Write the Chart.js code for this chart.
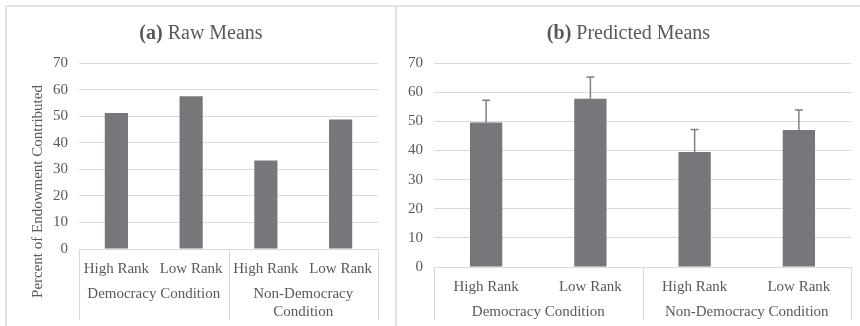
<!DOCTYPE html>
<html>
<head>
<meta charset="utf-8">
<script src="https://cdn.jsdelivr.net/npm/chart.js@4.4.1/dist/chart.umd.min.js"></script>
<style>
  html, body { margin: 0; padding: 0; background: #fff; width: 860px; height: 326px; overflow: hidden; }
  .panel { position: absolute; top: 5px; height: 340px; box-sizing: border-box; border: 2px solid #e3e3e3; }
  #panelA { left: 5px; width: 392px; }
  #panelB { left: 397px; width: 480px; border-left: none; border-right: none; }
  canvas { position: absolute; top: 7px; }
  #chartA { left: 7px; }
  #chartB { left: 397px; }
</style>
</head>
<body>
<div class="panel" id="panelA"></div>
<div class="panel" id="panelB"></div>
<canvas id="chartA" width="388" height="319"></canvas>
<canvas id="chartB" width="463" height="319"></canvas>
<script>
// data
const ranks = ['High Rank', 'Low Rank', 'High Rank', 'Low Rank'];
const groups = ['Democracy Condition', 'Non-Democracy Condition'];
const rawMeans = [51.2, 57.5, 33.3, 48.7];
const predictedMeans = [49.6, 57.7, 39.5, 47.0];
const predictedErr = [7.6, 7.5, 7.7, 6.9];
const yTicks = [0, 10, 20, 30, 40, 50, 60, 70];
const yTitle = 'Percent of Endowment Contributed';

const FONT = "'Liberation Serif', 'Times New Roman', serif";
const textGray = '#595959';
const lineGray = '#d9d9d9';
const barGray = '#76777a';

// titles, group labels, separators, error bars
const panelDeco = {
  id: 'panelDeco',
  afterDraw(chart, args, opts) {
    const ctx = chart.ctx;
    const x = chart.scales.x, y = chart.scales.y, area = chart.chartArea;
    ctx.save();

    // error bars (upper only)
    if (opts.errors) {
      const meta = chart.getDatasetMeta(0);
      ctx.strokeStyle = '#7f7f7f';
      ctx.lineWidth = 1.5;
      meta.data.forEach((bar, i) => {
        const v = chart.data.datasets[0].data[i];
        const top = y.getPixelForValue(v + opts.errors[i]);
        ctx.beginPath();
        ctx.moveTo(bar.x, bar.y);
        ctx.lineTo(bar.x, top);
        ctx.moveTo(bar.x - 4, top);
        ctx.lineTo(bar.x + 4, top);
        ctx.stroke();
      });
    }

    // category group separators
    const mid = (x.getPixelForValue(1) + x.getPixelForValue(2)) / 2;
    const edges = [area.left, mid, area.right];
    ctx.strokeStyle = lineGray;
    ctx.lineWidth = 1;
    edges.forEach(px => {
      const xx = Math.round(px) + 0.5;
      ctx.beginPath();
      ctx.moveTo(xx, area.bottom);
      ctx.lineTo(xx, opts.sepBottom);
      ctx.stroke();
    });

    // group labels
    ctx.fillStyle = textGray;
    ctx.font = '15px ' + FONT;
    ctx.textAlign = 'center';
    ctx.textBaseline = 'middle';
    groups.forEach((g, i) => {
      const cx = (edges[i] + edges[i + 1]) / 2;
      const w = edges[i + 1] - edges[i];
      let lines = [g];
      if (ctx.measureText(g).width > w - 10) {
        const k = g.lastIndexOf(' ');
        lines = [g.slice(0, k), g.slice(k + 1)];
      }
      lines.forEach((ln, j) => ctx.fillText(ln, cx, area.bottom + 45 + j * 18));
    });

    // chart title, mixed bold / regular
    const boldFont = 'bold 20px ' + FONT;
    const regFont = '20px ' + FONT;
    let total = 0;
    const widths = opts.title.map(p => { ctx.font = p.bold ? boldFont : regFont; const w = ctx.measureText(p.text).width; total += w; return w; });
    let tx = chart.width / 2 - total / 2;
    ctx.textAlign = 'left';
    opts.title.forEach((p, i) => {
      ctx.font = p.bold ? boldFont : regFont;
      ctx.fillText(p.text, tx, 27);
      tx += widths[i];
    });

    // y axis title
    if (opts.yTitle) {
      ctx.font = '15px ' + FONT;
      ctx.textAlign = 'center';
      ctx.translate(31, (area.top + opts.sepBottom) / 2);
      ctx.rotate(-Math.PI / 2);
      ctx.fillText(opts.yTitle, 0, 0);
    }
    ctx.restore();
  }
};

function makeChart(id, values, cfg) {
  return new Chart(document.getElementById(id), {
    type: 'bar',
    data: {
      labels: ranks,
      datasets: [{
        data: values,
        backgroundColor: barGray,
        borderWidth: 0,
        categoryPercentage: 1,
        barPercentage: 0.31
      }]
    },
    options: {
      responsive: false,
      animation: false,
      devicePixelRatio: 1,
      layout: { padding: { left: 0, top: 56, right: cfg.right, bottom: 0 } },
      plugins: {
        legend: { display: false },
        tooltip: { enabled: false },
        panelDeco: { title: cfg.title, errors: cfg.errors, yTitle: cfg.yTitle, sepBottom: 313 }
      },
      scales: {
        x: {
          grid: { display: false },
          border: { display: false },
          ticks: { color: textGray, font: { family: FONT, size: 15 }, padding: 3, maxRotation: 0, autoSkip: false },
          afterFit(s) { s.height = cfg.xHeight; }
        },
        y: {
          min: yTicks[0],
          max: yTicks[yTicks.length - 1],
          ticks: { stepSize: yTicks[1] - yTicks[0], color: textGray, font: { family: FONT, size: 15 }, padding: 11 },
          grid: { color: lineGray, lineWidth: 1, drawTicks: false },
          border: { display: false },
          afterFit(s) { s.width = cfg.yWidth; }
        }
      }
    },
    plugins: [panelDeco]
  });
}

makeChart('chartA', rawMeans, {
  title: [{ text: '(a)', bold: true }, { text: ' Raw Means' }],
  yTitle: yTitle,
  right: 17, yWidth: 72, xHeight: 77
});
makeChart('chartB', predictedMeans, {
  title: [{ text: '(b)', bold: true }, { text: ' Predicted Means' }],
  errors: predictedErr,
  right: 9, yWidth: 37, xHeight: 59
});
</script>
</body>
</html>
